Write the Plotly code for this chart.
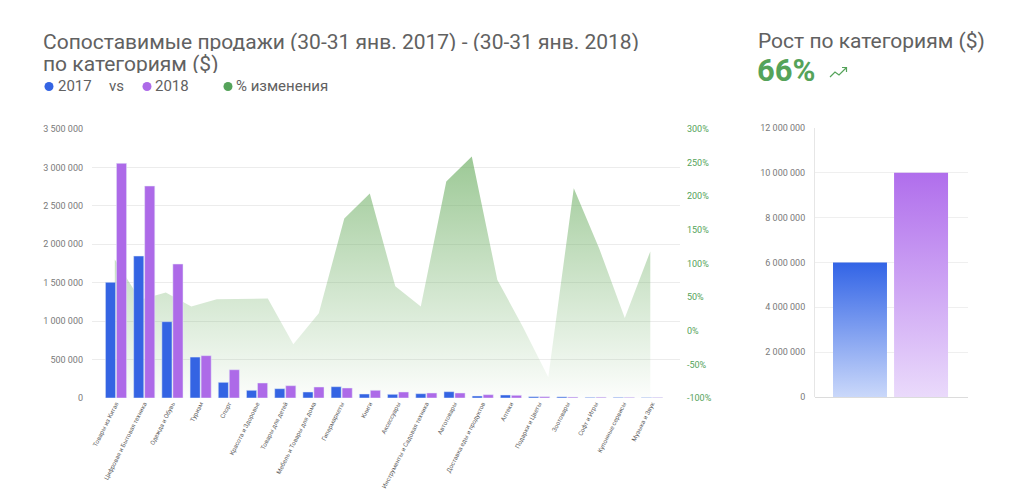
import plotly.graph_objects as go

# ---------------- data ----------------
categories = [
    "Товары из Китая", "Цифровая и Бытовая техника", "Одежда и Обувь", "Туризм",
    "Спорт", "Красота и Здоровье", "Товары для детей", "Мебель и Товары для дома",
    "Гипермаркеты", "Книги", "Аксессуары", "Инструменты и Садовая техника",
    "Автотовары", "Доставка еды и продуктов", "Аптеки", "Подарки и Цветы",
    "Зоотовары", "Софт и Игры", "Купонные сервисы", "Музыка и Звук",
]
sales_2017 = [1505000, 1847000, 993000, 533000, 204000, 100000, 121000, 78000, 147000, 52000,
              48000, 56000, 82000, 26000, 39000, 17000, 15000, 8000, 8000, 5000]
sales_2018 = [3053000, 2758000, 1743000, 551000, 368000, 195000, 160000, 143000, 130000, 100000,
              78000, 65000, 65000, 43000, 35000, 17000, 12000, 10000, 8000, 6000]
# % change series (drawn as an area with its own point spacing)
pct_change = [106, 46, 57, 36, 47, 48, 48, -20, 26, 167, 204,
              66, 36, 222, 259, 76, 6, -69, 212, 122, 19, 118]
pct_ticks = [-100, -50, 0, 50, 100, 150, 200, 250, 300]
pct_tick_labels = ["-100%", "-50%", "0%", "50%", "100%", "150%", "200%", "250%", "300%"]
sales_ticks = [0, 500000, 1000000, 1500000, 2000000, 2500000, 3000000, 3500000]

total_labels = ["2017", "2018"]
total_values = [6000000, 10000000]
total_ticks = [0, 2000000, 4000000, 6000000, 8000000, 10000000, 12000000]
growth_text = "66%"

# ---------------- styling ----------------
W, H = 1030, 491
BLUE = "#3464e3"
PURPLE = "#ad6ae8"
GREEN = "#55a35a"
GREY_TXT = "#616161"
TICK_TXT = "#7a7a7a"
FONT = "Roboto, 'Noto Sans', sans-serif"


def fx(px):
    return px / W


def fy(py):
    return 1 - py / H


left_dom_x = [fx(92), fx(680)]
left_dom_y = [fy(398), fy(129)]
right_dom_x = [fx(815), fx(968)]
right_dom_y = [fy(397), fy(128)]

fig = go.Figure()

# baseline for the area fill (axis minimum)
n_pct = len(pct_change)
fig.add_trace(go.Scatter(
    x=list(range(n_pct)), y=[pct_ticks[0]] * n_pct,
    mode="lines", line=dict(width=0, color="rgba(0,0,0,0)"),
    xaxis="x", yaxis="y", hoverinfo="skip", showlegend=False,
))
fig.add_trace(go.Scatter(
    x=list(range(n_pct)), y=pct_change, name="% изменения",
    mode="lines", line=dict(width=0, color="rgba(110,175,100,0)"),
    fill="tonexty",
    fillgradient=dict(
        type="vertical",
        colorscale=[[0, "rgba(110,175,100,0.02)"], [1, "rgba(110,175,100,0.68)"]],
        start=pct_ticks[0], stop=max(pct_change),
    ),
    xaxis="x", yaxis="y", showlegend=False,
))

# bars on overlaying axes (drawn above the area)
fig.add_trace(go.Bar(x=categories, y=sales_2017, name="2017", marker_color=BLUE,
                     xaxis="x2", yaxis="y2", showlegend=False))
fig.add_trace(go.Bar(x=categories, y=sales_2018, name="2018", marker_color=PURPLE,
                     xaxis="x2", yaxis="y2", showlegend=False))

# right chart: gradient columns
grad_scales = [
    [[0, "rgb(202,216,250)"], [1, "rgb(50,100,230)"]],
    [[0, "rgb(234,218,251)"], [1, "rgb(176,110,236)"]],
]
half_w = 0.442
for i, (lab, val) in enumerate(zip(total_labels, total_values)):
    fig.add_trace(go.Scatter(
        x=[i - half_w, i + half_w], y=[val, val], name=lab,
        mode="lines", line=dict(width=0, color="rgba(0,0,0,0)"),
        fill="tozeroy",
        fillgradient=dict(type="vertical", colorscale=grad_scales[i], start=0, stop=val),
        xaxis="x3", yaxis="y3", showlegend=False,
    ))

fig.update_layout(
    width=W, height=H,
    margin=dict(l=0, r=0, t=0, b=0),
    paper_bgcolor="white", plot_bgcolor="rgba(0,0,0,0)",
    font=dict(family=FONT, color=GREY_TXT),
    separators=", ",
    barmode="group", bargap=0.22, bargroupgap=0.08,
    showlegend=False,
    xaxis=dict(domain=left_dom_x, anchor="y", range=[-0.894, 22.165],
               visible=False, fixedrange=True),
    yaxis=dict(domain=left_dom_y, anchor="x", side="right", range=[-100, 300],
               tickmode="array", tickvals=pct_ticks, ticktext=pct_tick_labels,
               showgrid=False, zeroline=False,
               ticks="", ticklabelstandoff=6, automargin=False,
               tickfont=dict(size=9, color=GREEN, family=FONT)),
    xaxis2=dict(overlaying="x", anchor="y2", type="category",
                range=[-0.851, 19.993], tickangle=-63, ticks="",
                showgrid=False, zeroline=False, showline=False, automargin=False,
                tickfont=dict(size=6.2, color="#5f5f5f", family="Roboto")),
    yaxis2=dict(overlaying="y", anchor="x2", side="left", range=[0, 3500000],
                tickvals=sales_ticks, tickformat=",d", showgrid=True,
                gridcolor="#ececec", gridwidth=1, zeroline=False, ticks="",
                ticklabelstandoff=8, automargin=False,
                tickfont=dict(size=9, color=TICK_TXT, family=FONT)),
    xaxis3=dict(domain=right_dom_x, anchor="y3", range=[-0.737, 1.769],
                visible=False, fixedrange=True),
    yaxis3=dict(domain=right_dom_y, anchor="x3", range=[0, 12000000],
                tickvals=total_ticks, tickformat=",d", showgrid=True,
                gridcolor="#efefef", zeroline=True, zerolinecolor="#dcdcdc",
                zerolinewidth=1, showline=True, linecolor="#e6e6e6", linewidth=1,
                ticks="", ticklabelstandoff=7, automargin=False,
                tickfont=dict(size=9, color=TICK_TXT, family=FONT)),
)

ann = []


def text(x, y, s, size, color=GREY_TXT, bold=False, height=None, xanchor="left"):
    a = dict(
        x=fx(x), y=fy(y), xref="paper", yref="paper", xanchor=xanchor, yanchor="middle",
        text=("<b>" + s + "</b>") if bold else s, showarrow=False,
        font=dict(size=size, color=color, family=FONT),
    )
    if height is not None:
        a["height"] = height
    ann.append(a)


text(41, 41, "Сопоставимые продажи (30-31 янв. 2017) - (30-31 янв. 2018)", 21, height=19)
text(41, 63, "по категориям ($)", 21, height=19)
# legend row
text(56, 86, "2017", 15)
text(107, 86, "vs", 15)
text(153, 86, "2018", 15)
text(234, 86, "% изменения", 15)
# right header
text(756, 41, "Рост по категориям ($)", 21)
text(755, 70, growth_text, 31, color=GREEN, bold=True)

fig.update_layout(annotations=ann)

# legend dots
for cx, col in [(49, BLUE), (147, PURPLE), (228, GREEN)]:
    fig.add_shape(type="circle", xref="paper", yref="paper",
                  xsizemode="pixel", ysizemode="pixel",
                  xanchor=fx(cx), yanchor=fy(86.5),
                  x0=-4.5, x1=4.5, y0=-4.5, y1=4.5,
                  fillcolor=col, line=dict(width=0))

# small trending-up icon next to the growth figure
pts = [(830, 77), (835, 72), (839, 75), (846, 68)]
path = "M " + " L ".join("%f,%f" % (fx(a), fy(b)) for a, b in pts)
path += " M %f,%f L %f,%f L %f,%f" % (fx(842), fy(67.5), fx(846.5), fy(67.5), fx(846.5), fy(72))
fig.add_shape(type="path", path=path, xref="paper", yref="paper",
              line=dict(color=GREEN, width=1.2))

fig.write_html(
    "out.html",
    config={"displayModeBar": False},
    post_script="document.body.style.margin='0';document.body.style.overflow='hidden';",
)
